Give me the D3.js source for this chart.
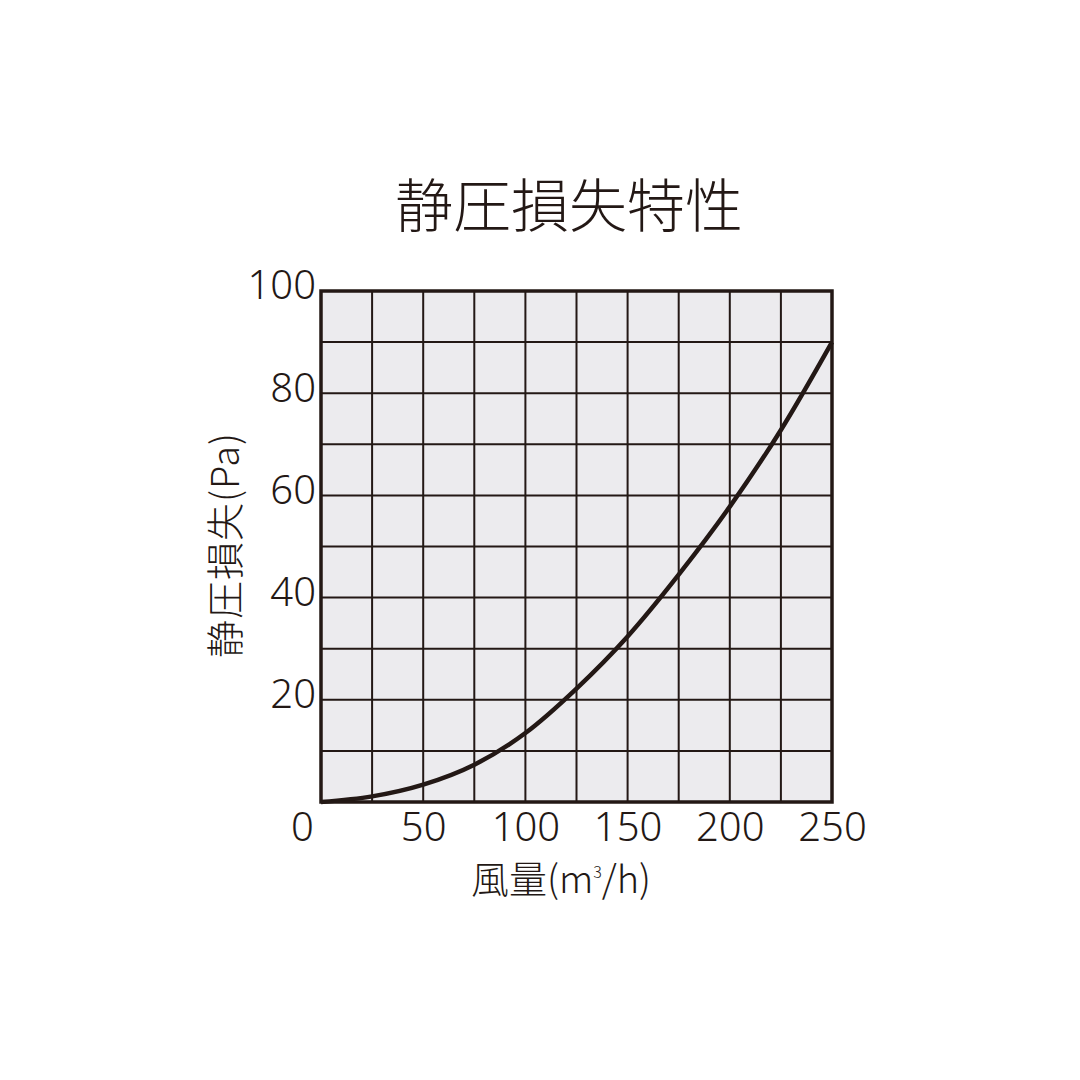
<!DOCTYPE html>
<html>
<head>
<meta charset="utf-8">
<script src="https://cdn.jsdelivr.net/npm/d3@7"></script>
<style>
  html, body { margin: 0; padding: 0; background: #fff; }
  svg text { fill: #231815; }
</style>
</head>
<body>
<div id="chart"></div>
<script>
// airflow (m3/h) vs static pressure loss (Pa)
const airflow  = [0, 25, 50, 75, 100, 125, 150, 175, 200, 225, 250];
const pressure = [0, 1.1, 3.4, 7.3, 13.5, 22.2, 32.4, 44.5, 57.8, 72.8, 90];

const xTicks = [0, 50, 100, 150, 200, 250];
const yTicks = [20, 40, 60, 80, 100];
const xGrid = d3.range(0, 251, 25);
const yGrid = d3.range(0, 101, 10);

const w = 1080, h = 1080;
const ink = '#231815';
const plot = { left: 321, right: 832, top: 291, bottom: 802 };

const svg = d3.select('#chart').append('svg')
  .attr('width', w)
  .attr('height', h);

const xScale = d3.scaleLinear().domain([0, 250]).range([plot.left, plot.right]);
const yScale = d3.scaleLinear().domain([0, 100]).range([plot.bottom, plot.top]);

// background
svg.append('rect')
  .attr('x', plot.left).attr('y', plot.top)
  .attr('width', plot.right - plot.left)
  .attr('height', plot.bottom - plot.top)
  .attr('fill', '#ecebee');

// grid
svg.append('g').selectAll('line')
  .data(xGrid)
  .enter().append('line')
  .attr('x1', d => xScale(d)).attr('x2', d => xScale(d))
  .attr('y1', plot.top).attr('y2', plot.bottom)
  .attr('stroke', ink).attr('stroke-width', 2);

svg.append('g').selectAll('line')
  .data(yGrid)
  .enter().append('line')
  .attr('y1', d => yScale(d)).attr('y2', d => yScale(d))
  .attr('x1', plot.left).attr('x2', plot.right)
  .attr('stroke', ink).attr('stroke-width', 2);

// curve
const line = d3.line()
  .x((d, i) => xScale(d))
  .y((d, i) => yScale(pressure[i]))
  .curve(d3.curveMonotoneX);

svg.append('path')
  .datum(airflow)
  .attr('d', line)
  .attr('fill', 'none')
  .attr('stroke', ink)
  .attr('stroke-width', 4.5);

// frame
svg.append('rect')
  .attr('x', plot.left).attr('y', plot.top)
  .attr('width', plot.right - plot.left)
  .attr('height', plot.bottom - plot.top)
  .attr('fill', 'none')
  .attr('stroke', ink)
  .attr('stroke-width', 3.5);

// axes (labels only)
const tickFont = '"Noto Sans", "DejaVu Sans", sans-serif';

const xAxis = d3.axisBottom(xScale).tickValues(xTicks).tickSize(0).tickPadding(0);
const gx = svg.append('g')
  .attr('transform', 'translate(0,' + plot.bottom + ')')
  .call(xAxis);
gx.select('.domain').remove();
gx.selectAll('text')
  .attr('dy', null)
  .attr('y', 39)
  .attr('dx', d => d === 0 ? -19 : 0)
  .style('font-family', tickFont)
  .style('font-size', '40px')
  .style('font-weight', 300)
  .attr('fill', ink);

const yAxis = d3.axisLeft(yScale).tickValues(yTicks).tickSize(0).tickPadding(0);
const gy = svg.append('g')
  .attr('transform', 'translate(' + (plot.left - 5) + ',0)')
  .call(yAxis);
gy.select('.domain').remove();
gy.selectAll('text')
  .attr('dy', '0.32em')
  .attr('y', -5)
  .style('font-family', tickFont)
  .style('font-size', '40px')
  .style('font-weight', 300)
  .attr('fill', ink);

// titles
const jpFont = '"Noto Sans CJK JP", sans-serif';

svg.append('text')
  .attr('x', 569).attr('y', 227)
  .attr('text-anchor', 'middle')
  .style('font-family', jpFont)
  .style('font-size', '58px')
  .style('font-weight', 300)
  .text('静圧損失特性');

const xt = svg.append('text')
  .attr('x', 561).attr('y', 893)
  .attr('text-anchor', 'middle')
  .style('font-family', jpFont)
  .style('font-size', '38px')
  .style('font-weight', 300);
xt.append('tspan').text('風量(m');
xt.append('tspan').attr('dy', -15).style('font-size', '16px').text('3');
xt.append('tspan').attr('dy', 15).text('/h)');

svg.append('text')
  .attr('transform', 'translate(239,545) rotate(-90)')
  .attr('text-anchor', 'middle')
  .style('font-family', jpFont)
  .style('font-size', '38px')
  .style('font-weight', 300)
  .style('letter-spacing', '1px')
  .text('静圧損失(Pa)');
</script>
</body>
</html>
